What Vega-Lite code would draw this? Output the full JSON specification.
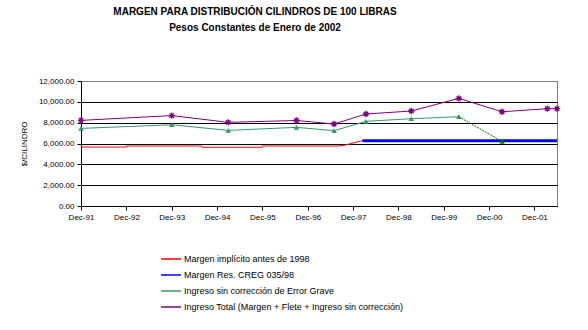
{
  "$schema": "https://vega.github.io/schema/vega-lite/v6.json",
  "autosize": {"type": "none"},
  "width": 476,
  "height": 125,
  "padding": {"left": 81, "top": 81, "right": 31, "bottom": 124},
  "background": "white",
  "config": {
    "font": "Liberation Sans",
    "view": {"stroke": "#808080", "strokeWidth": 1},
    "axis": {"labelFont": "Liberation Sans", "titleFont": "Liberation Sans", "labelColor": "black", "titleColor": "black", "domainColor": "black", "tickColor": "black"}
  },
  "title": {
    "text": "MARGEN PARA DISTRIBUCIÓN CILINDROS DE 100 LIBRAS",
    "subtitle": "Pesos Constantes de Enero de 2002",
    "anchor": "middle",
    "dx": -64,
    "offset": 44,
    "fontSize": 10,
    "fontWeight": "bold",
    "subtitleFontSize": 10,
    "subtitleFontWeight": "bold",
    "subtitleColor": "black",
    "color": "black",
    "subtitlePadding": 6
  },
  "data": {
    "values": [
      {"serie": "Margen implícito antes de 1998", "fecha": "1991-12-01", "valor": 5660},
      {"serie": "Margen implícito antes de 1998", "fecha": "1992-12-01", "valor": 5660},
      {"serie": "Margen implícito antes de 1998", "fecha": "1992-12-02", "valor": 5760},
      {"serie": "Margen implícito antes de 1998", "fecha": "1994-08-01", "valor": 5760},
      {"serie": "Margen implícito antes de 1998", "fecha": "1994-08-02", "valor": 5640},
      {"serie": "Margen implícito antes de 1998", "fecha": "1995-12-01", "valor": 5640},
      {"serie": "Margen implícito antes de 1998", "fecha": "1995-12-02", "valor": 5760},
      {"serie": "Margen implícito antes de 1998", "fecha": "1997-08-01", "valor": 5760},
      {"serie": "Margen implícito antes de 1998", "fecha": "1997-10-01", "valor": 5860},
      {"serie": "Margen implícito antes de 1998", "fecha": "1997-12-01", "valor": 6050},
      {"serie": "Margen implícito antes de 1998", "fecha": "1998-02-15", "valor": 6270},
      {"serie": "Margen Res. CREG 035/98", "fecha": "1998-02-15", "valor": 6270},
      {"serie": "Margen Res. CREG 035/98", "fecha": "2002-06-01", "valor": 6270},
      {"serie": "Ingreso sin corrección de Error Grave", "fecha": "1991-12-01", "valor": 7450},
      {"serie": "Ingreso sin corrección de Error Grave", "fecha": "1993-12-01", "valor": 7800},
      {"serie": "Ingreso sin corrección de Error Grave", "fecha": "1995-03-01", "valor": 7260},
      {"serie": "Ingreso sin corrección de Error Grave", "fecha": "1996-09-01", "valor": 7550},
      {"serie": "Ingreso sin corrección de Error Grave", "fecha": "1997-07-01", "valor": 7230},
      {"serie": "Ingreso sin corrección de Error Grave", "fecha": "1998-03-15", "valor": 8130},
      {"serie": "Ingreso sin corrección de Error Grave", "fecha": "1999-03-15", "valor": 8380},
      {"serie": "Ingreso sin corrección de Error Grave", "fecha": "2000-04-01", "valor": 8570},
      {"serie": "Ingreso Total (Margen + Flete + Ingreso sin corrección)", "fecha": "1991-12-01", "valor": 8220},
      {"serie": "Ingreso Total (Margen + Flete + Ingreso sin corrección)", "fecha": "1993-12-01", "valor": 8680},
      {"serie": "Ingreso Total (Margen + Flete + Ingreso sin corrección)", "fecha": "1995-03-01", "valor": 8030},
      {"serie": "Ingreso Total (Margen + Flete + Ingreso sin corrección)", "fecha": "1996-09-01", "valor": 8210},
      {"serie": "Ingreso Total (Margen + Flete + Ingreso sin corrección)", "fecha": "1997-07-01", "valor": 7870},
      {"serie": "Ingreso Total (Margen + Flete + Ingreso sin corrección)", "fecha": "1998-03-15", "valor": 8830},
      {"serie": "Ingreso Total (Margen + Flete + Ingreso sin corrección)", "fecha": "1999-03-15", "valor": 9120},
      {"serie": "Ingreso Total (Margen + Flete + Ingreso sin corrección)", "fecha": "2000-04-01", "valor": 10330},
      {"serie": "Ingreso Total (Margen + Flete + Ingreso sin corrección)", "fecha": "2001-03-15", "valor": 9050},
      {"serie": "Ingreso Total (Margen + Flete + Ingreso sin corrección)", "fecha": "2002-03-15", "valor": 9340},
      {"serie": "Ingreso Total (Margen + Flete + Ingreso sin corrección)", "fecha": "2002-06-01", "valor": 9340}
    ],
    "format": {"parse": {"fecha": "date:'%Y-%m-%d'"}}
  },
  "encoding": {
    "x": {
      "field": "fecha",
      "type": "temporal",
      "scale": {"domain": [{"year": 1991, "month": 12, "date": 1}, {"year": 2002, "month": 6, "date": 1}]},
      "axis": {
        "title": null,
        "format": "%b-%y",
        "values": [
          {"year": 1991, "month": 12, "date": 1}, {"year": 1992, "month": 12, "date": 1}, {"year": 1993, "month": 12, "date": 1},
          {"year": 1994, "month": 12, "date": 1}, {"year": 1995, "month": 12, "date": 1}, {"year": 1996, "month": 12, "date": 1},
          {"year": 1997, "month": 12, "date": 1}, {"year": 1998, "month": 12, "date": 1}, {"year": 1999, "month": 12, "date": 1},
          {"year": 2000, "month": 12, "date": 1}, {"year": 2001, "month": 12, "date": 1}
        ],
        "grid": false,
        "labelFontSize": 8,
        "labelPadding": 3,
        "tickSize": 4,
        "labelOverlap": false,
        "labelFlush": false
      }
    },
    "y": {
      "field": "valor",
      "type": "quantitative",
      "scale": {"domain": [0, 12000], "nice": false},
      "axis": {
        "title": "$/CILINDRO",
        "titleFontSize": 8,
        "titleFontWeight": "normal",
        "titlePadding": 10,
        "format": ",.2f",
        "values": [0, 2000, 4000, 6000, 8000, 10000, 12000],
        "labelFontSize": 8,
        "tickSize": 4,
        "labelPadding": 3,
        "grid": true,
        "gridColor": {"condition": {"test": "datum.value == 12000", "value": "#808080"}, "value": "black"},
        "gridOpacity": 1,
        "gridWidth": 1
      }
    }
  },
  "layer": [
    {
      "mark": {"type": "line", "interpolate": "linear", "strokeWidth": 1},
      "encoding": {
        "color": {
          "field": "serie",
          "type": "nominal",
          "sort": null,
          "scale": {
            "domain": ["Margen implícito antes de 1998", "Margen Res. CREG 035/98", "Ingreso sin corrección de Error Grave", "Ingreso Total (Margen + Flete + Ingreso sin corrección)"],
            "range": ["#FF0000", "#0000FF", "#339966", "#800080"]
          },
          "legend": {
            "title": null,
            "orient": "none",
            "legendX": 79,
            "legendY": 167,
            "direction": "vertical",
            "symbolType": "stroke",
            "symbolSize": 400,
            "symbolStrokeWidth": 1.5,
            "labelFontSize": 9,
            "labelFont": "Liberation Sans",
            "labelColor": "black",
            "rowPadding": 0,
            "labelOffset": 2,
            "labelLimit": 400
          }
        }
      }
    },
    {
      "transform": [{"filter": "datum.serie == 'Margen Res. CREG 035/98'"}],
      "mark": {"type": "line", "color": "#0000FF", "strokeWidth": 3}
    },
    {
      "transform": [{"filter": "datum.serie == 'Ingreso sin corrección de Error Grave'"}],
      "mark": {"type": "point", "shape": "triangle-up", "filled": true, "color": "#339966", "size": 30, "opacity": 1}
    },
    {
      "transform": [{"filter": "datum.serie == 'Ingreso Total (Margen + Flete + Ingreso sin corrección)'"}],
      "mark": {"type": "point", "shape": "M-1,0L1,0M0,-1L0,1M-0.7,-0.7L0.7,0.7M-0.7,0.7L0.7,-0.7", "filled": false, "color": "#800080", "strokeWidth": 1.3, "size": 40, "opacity": 1}
    },
    {
      "data": {
        "values": [
          {"fecha": "2000-04-01", "valor": 8570},
          {"fecha": "2001-03-15", "valor": 6200}
        ],
        "format": {"parse": {"fecha": "date:'%Y-%m-%d'"}}
      },
      "mark": {"type": "line", "color": "#008000", "strokeWidth": 1, "strokeDash": [2, 1]}
    },
    {
      "data": {
        "values": [
          {"fecha": "2001-03-15", "valor": 6200}
        ],
        "format": {"parse": {"fecha": "date:'%Y-%m-%d'"}}
      },
      "mark": {"type": "point", "shape": "triangle-up", "filled": true, "color": "#008000", "size": 30, "opacity": 1}
    }
  ]
}
